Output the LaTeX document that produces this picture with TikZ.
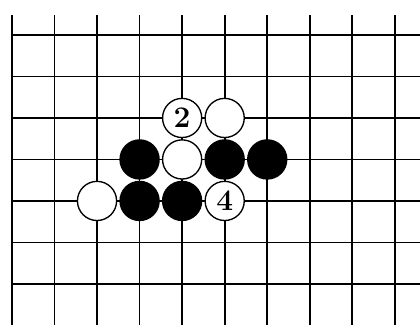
\documentclass[tikz,border=0pt]{standalone}
\begin{document}
\begin{tikzpicture}[x=1cm, y=0.975cm,
  wstone/.style={circle, draw, fill=white, line width=0.9pt, minimum size=0.92cm, inner sep=0pt, font=\fontsize{20}{20}\selectfont\bfseries},
  bstone/.style={circle, fill=black, minimum size=0.95cm, inner sep=0pt}]
\useasboundingbox (-0.28,0.843) rectangle (9.59,-6.99);
% board lines
\foreach \i in {1,...,9} \draw[line width=1.2pt] (\i,0.48) -- (\i,-6.99);
\foreach \j in {0,...,6} \draw[line width=1.2pt] (0,-\j) -- (9.59,-\j);
\draw[line width=1.8pt] (0,0.48) -- (0,-6.99);
% stones
\node[wstone] (w2) at (4,-2) {2};
\node[wstone] (wa) at (5,-2) {};
\node[bstone] (ba) at (3,-3) {};
\node[wstone] (wb) at (4,-3) {};
\node[bstone] (bb) at (5,-3) {};
\node[bstone] (bc) at (6,-3) {};
\node[wstone] (wc) at (2,-4) {};
\node[bstone] (bd) at (3,-4) {};
\node[bstone] (be) at (4,-4) {};
\node[wstone] (w4) at (5,-4) {4};
\end{tikzpicture}
\end{document}
